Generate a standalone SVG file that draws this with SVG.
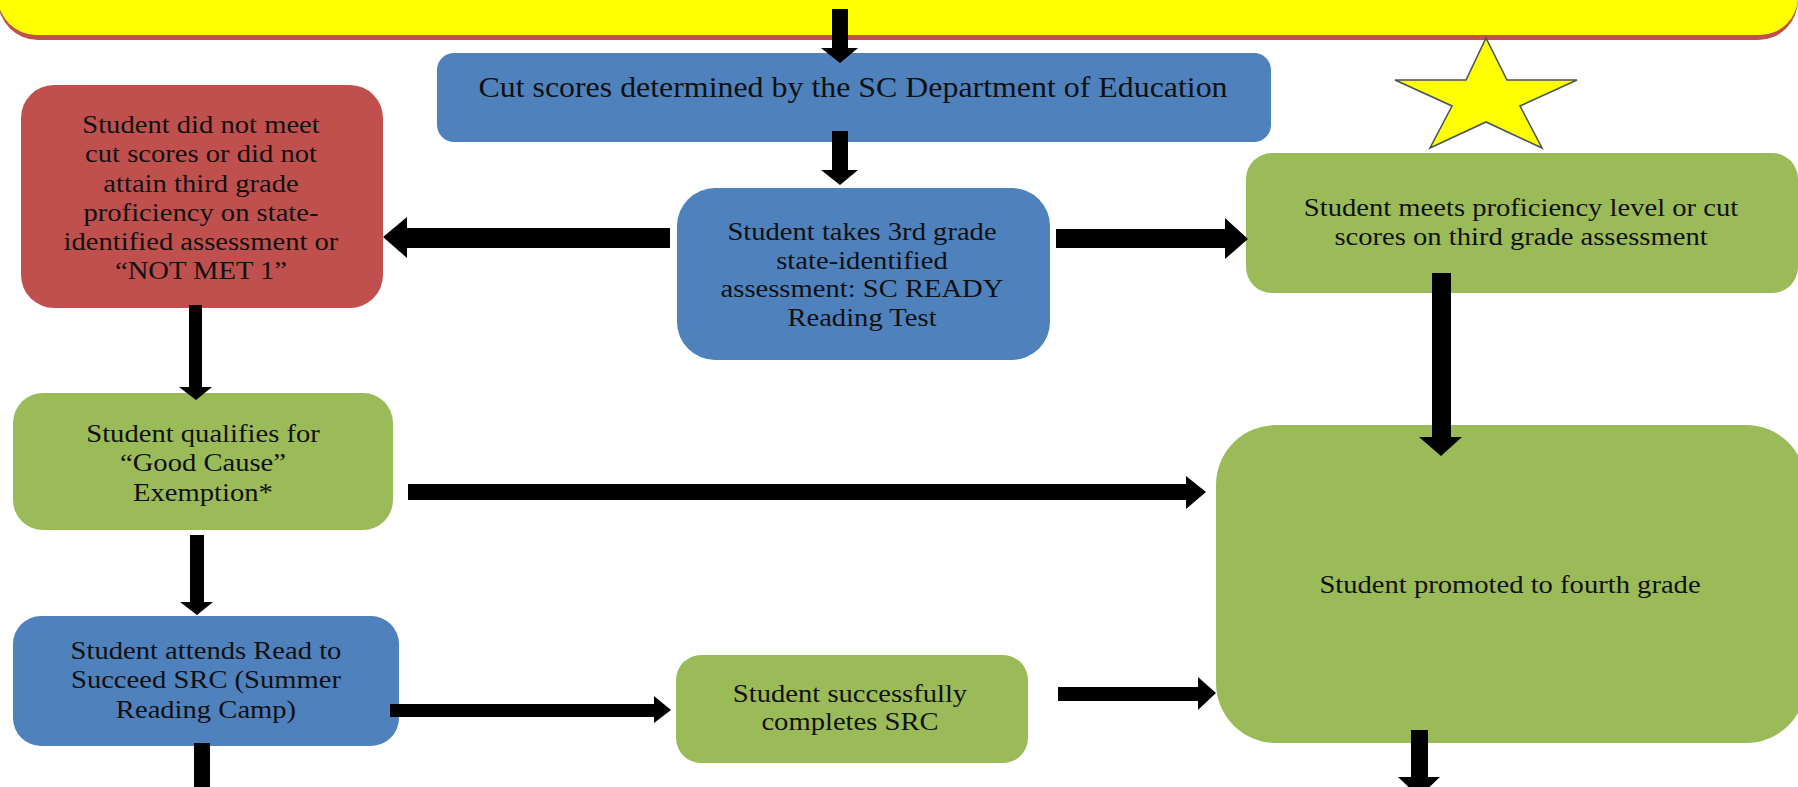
<svg xmlns="http://www.w3.org/2000/svg" width="1798" height="787" viewBox="0 0 1798 787">
<style>
.t{font-family:"Liberation Serif","Times New Roman",serif;font-size:26px;fill:#111;text-anchor:middle}
.blue{fill:#4F81BD}
.red{fill:#C0504D}
.green{fill:#9BBB59}
.arr{fill:#000}
</style>
<rect width="1798" height="787" fill="#fff"/>
<g id="banner">
<rect x="-2" y="-55" width="1800" height="95" rx="40" fill="#C0504D"/>
<rect x="-2" y="-60" width="1800" height="95" rx="38" fill="#FFFF00"/>
</g>
<g id="star">
<polygon points="1486,38 1507,80 1577,80 1520,106 1542,148 1486,122 1430,148 1452,106 1395,80 1466,80" fill="#FFFF00" stroke="#4A545C" stroke-width="1.6" stroke-linejoin="miter"/>
</g>
<g id="node-cut">
<rect class="blue" x="437" y="53" width="834" height="89" rx="17"/>
<text class="t" style="font-size:29px" transform="translate(853 0) scale(1.1 1)"><tspan x="0" y="97">Cut scores determined by the SC Department of Education</tspan></text>
</g>
<g id="node-takes">
<rect class="blue" x="677" y="188" width="373" height="172" rx="38"/>
<text class="t" transform="translate(862 0) scale(1.1 1)"><tspan x="0" y="240">Student takes 3rd grade</tspan><tspan x="0" y="269">state-identified</tspan><tspan x="0" y="297">assessment: SC READY</tspan><tspan x="0" y="326">Reading Test</tspan></text>
</g>
<g id="node-notmet">
<rect class="red" x="21" y="85" width="362" height="223" rx="33"/>
<text class="t" transform="translate(201 0) scale(1.1 1)"><tspan x="0" y="133">Student did not meet</tspan><tspan x="0" y="162">cut scores or did not</tspan><tspan x="0" y="192">attain third grade</tspan><tspan x="0" y="221">proficiency on state-</tspan><tspan x="0" y="250">identified assessment or</tspan><tspan x="0" y="279">“NOT MET 1”</tspan></text>
</g>
<g id="node-meets">
<rect class="green" x="1246" y="153" width="552" height="140" rx="26"/>
<text class="t" transform="translate(1521 0) scale(1.1 1)"><tspan x="0" y="216">Student meets proficiency level or cut</tspan><tspan x="0" y="245">scores on third grade assessment</tspan></text>
</g>
<g id="node-goodcause">
<rect class="green" x="13" y="393" width="380" height="137" rx="30"/>
<text class="t" transform="translate(203 0) scale(1.1 1)"><tspan x="0" y="442">Student qualifies for</tspan><tspan x="0" y="471">“Good Cause”</tspan><tspan x="0" y="501">Exemption*</tspan></text>
</g>
<g id="node-promoted">
<rect class="green" x="1216" y="425" width="590" height="318" rx="60"/>
<text class="t" transform="translate(1510 0) scale(1.1 1)"><tspan x="0" y="593">Student promoted to fourth grade</tspan></text>
</g>
<g id="node-src">
<rect class="blue" x="13" y="616" width="386" height="130" rx="28"/>
<text class="t" transform="translate(206 0) scale(1.1 1)"><tspan x="0" y="659">Student attends Read to</tspan><tspan x="0" y="688">Succeed SRC (Summer</tspan><tspan x="0" y="718">Reading Camp)</tspan></text>
</g>
<g id="node-completes">
<rect class="green" x="676" y="655" width="352" height="108" rx="25"/>
<text class="t" transform="translate(850 0) scale(1.1 1)"><tspan x="0" y="702">Student successfully</tspan><tspan x="0" y="730">completes SRC</tspan></text>
</g>
<g id="connectors">
<polygon class="arr" points="832,9 848,9 848,48 858,48 840,63 821,48 832,48"/>
<polygon class="arr" points="832,131 848,131 848,170 858,170 840,185 821,170 832,170"/>
<polygon class="arr" points="670,228 670,248 407,248 407,258 383,237 407,217 407,228"/>
<polygon class="arr" points="1056,229 1225,229 1225,218 1248,239 1225,259 1225,248 1056,248"/>
<polygon class="arr" points="1432,273 1451,273 1451,437 1462,437 1441,456 1419,437 1432,437"/>
<polygon class="arr" points="189,305 202,305 202,387 212,387 196,400 179,387 189,387"/>
<polygon class="arr" points="408,484 1186,484 1186,476 1206,492 1186,509 1186,500 408,500"/>
<polygon class="arr" points="190,535 204,535 204,602 213,602 197,615 180,602 190,602"/>
<polygon class="arr" points="390,704 654,704 654,696 671,710 654,723 654,717 390,717"/>
<polygon class="arr" points="1058,687 1198,687 1198,677 1216,693 1198,710 1198,701 1058,701"/>
<polygon class="arr" points="194,743 210,743 210,800 194,800"/>
<polygon class="arr" points="1411,730 1428,730 1428,777 1440,777 1419,797 1398,777 1411,777"/>
</g>
</svg>
